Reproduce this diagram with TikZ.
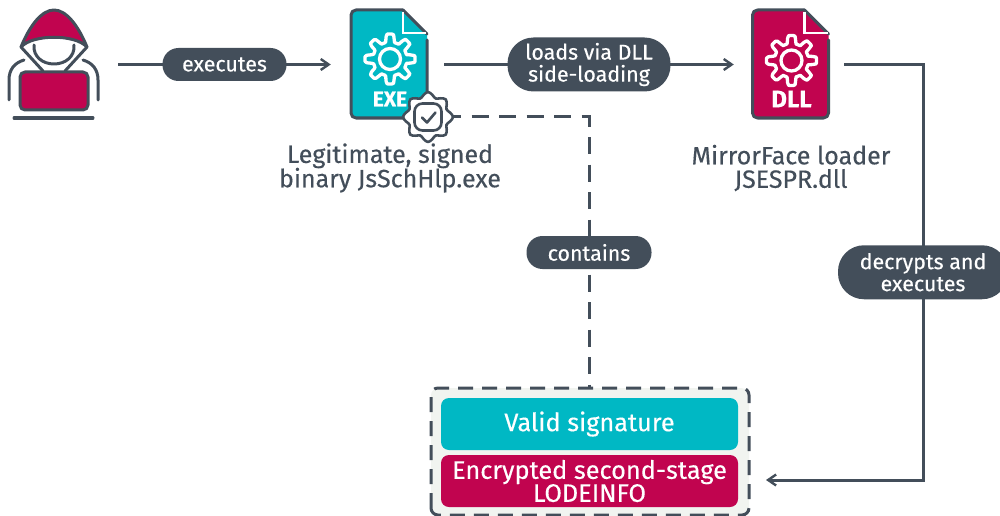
\documentclass[tikz,border=0pt]{standalone}
\usepackage{fontspec}
\setmainfont{Fira Sans}[FakeBold=0.35]
\usetikzlibrary{arrows.meta}
\definecolor{ink}{HTML}{434E5A}
\definecolor{crim}{HTML}{C1044F}
\definecolor{teal2}{HTML}{00B8C4}
\definecolor{panelbg}{HTML}{F1F4F0}
\tikzset{
  x=1pt,y=-1pt,
  conn/.style={draw=ink,line width=3pt,-{Straight Barb[length=8pt,width=11pt,line width=2.4pt]}},
  dashconn/.style={draw=ink,line width=3pt,dash pattern=on 17pt off 10.5pt},
  pilltext/.style={fill=ink,text=white,rounded corners=16pt,align=center,font=\fontsize{21.4}{22}\selectfont,inner sep=0pt},
  anchorbox/.style={minimum height=20pt,inner sep=0pt},
  caption/.style={text=ink,align=center,font=\fontsize{25}{23}\selectfont,inner sep=0pt},
  boxlabel/.style={text=white,align=center,font=\fontsize{25.3}{24}\selectfont,minimum width=297pt,rounded corners=8pt,inner sep=0pt},
  icon/.style={line width=3pt,draw=ink,line join=round,line cap=round},
}
\newcommand{\gearicon}[3]{%
  \draw[white,line width=3.3pt,line join=round] plot[smooth cycle,tension=0.35,samples=97,domain=0:356.25,variable=\t]
    ({#1+(#3-4+4*max(-1,min(1,2.2*cos(8*\t))))*cos(\t)},{#2+(#3-4+4*max(-1,min(1,2.2*cos(8*\t))))*sin(\t)});
  \draw[white,line width=3.3pt] (#1,#2) circle[radius=10.5];
}
\newcommand{\docicon}[5]{%
  \path[fill=#3,rounded corners=5pt] (#1-39,10) -- (#1+13,10) [sharp corners] -- (#1+37,34) [rounded corners=5pt] -- (#1+37,118) -- (#1-39,118) -- cycle;
  \draw[icon,rounded corners=5pt] (#1+37,40) -- (#1+37,118) -- (#1-39,118) -- (#1-39,10) -- (#1+13,10);
  \draw[icon] (#1+13,10) -- (#1+37,34);
  \draw[white,line width=2.4pt] (#1+13,12) -- (#1+13,33) -- (#1+36,33);
  \gearicon{#1}{#5}{25}
  \node[text=white,inner sep=0pt,font=\fontsize{#4}{#4}\selectfont\bfseries] at (#1,99) {#2};
}
\begin{document}
\begin{tikzpicture}
\useasboundingbox (0,0) rectangle (1000,516);
% anchors for icons
\node[anchorbox,minimum width=130pt] (actor) at (53,64.5) {};
\node[anchorbox,minimum width=113pt] (exe) at (387.5,64.5) {};
\node[anchorbox,minimum width=110pt] (dll) at (789,64.5) {};
\node[anchorbox,minimum width=30pt] (badge) at (429,117) {};
\coordinate (bendA) at (589,117);
\coordinate (bendB) at (923,64.5);
\coordinate (bendC) at (923,480);
% panel
\node[draw=none,fill=panelbg,minimum width=318pt,minimum height=128pt,anchor=north,inner sep=0pt,rounded corners=7pt] (panelfill) at (590,388) {};
\draw[draw=ink,line width=3pt,dash pattern=on 15pt off 9pt,rounded corners=7pt] (431,515) -- (431,388) -- (749,388) -- (749,515) -- cycle;
\coordinate (panel) at (589,388);
\coordinate (panelE) at (766,480);
\node[boxlabel,fill=teal2,minimum height=52pt] (sig) at (589.5,424) {\raisebox{-1.5pt}{Valid signature}};
\node[boxlabel,fill=crim,minimum height=52pt] (enc) at (589.5,481) {Encrypted second-stage\\[-1pt]LODEINFO};
% connectors
\draw[conn] (actor.east) -- node[pilltext,minimum width=124pt,minimum height=33pt,pos=0.5] (p1) {executes} (exe.west);
\draw[conn] (exe.east) -- node[pilltext,minimum width=163pt,minimum height=54pt,rounded corners=26pt,pos=0.5] (p2) {loads via DLL\\side-loading} (dll.west);
\draw[conn] (dll.east) -- (bendB) -- node[pilltext,minimum width=170pt,minimum height=54pt,rounded corners=26pt,pos=0.5] (p3) {decrypts and\\executes} (bendC) -- (panelE);
\draw[dashconn] (badge.east) -- (bendA) -- node[pilltext,minimum width=125pt,minimum height=33pt,pos=0.5] (p4) {contains} (panel);
% actor icon
\path[fill=crim] (21,47) .. controls (30,25) and (42,10) .. (54,10) .. controls (66,10) and (78,25) .. (87,47) .. controls (75,34) and (33,34) .. (21,47) -- cycle;
\draw[icon] (21,47) .. controls (30,25) and (42,10) .. (54,10) .. controls (66,10) and (78,25) .. (87,47) .. controls (75,34) and (33,34) .. (21,47) -- cycle;
\draw[icon] (34,45) .. controls (33,57) and (43,64) .. (54,64) .. controls (65,64) and (75,57) .. (74,45);
\draw[icon] (21,47) -- (43,71);
\draw[icon] (87,47) -- (65,71);
\draw[icon] (24,60) .. controls (14,63) and (9,70) .. (9,80) -- (9,100);
\draw[icon] (83,60) .. controls (93,63) and (98,70) .. (98,80) -- (98,100);
\draw[icon,fill=crim,rounded corners=5pt] (20,72) rectangle (88,110);
\draw[icon] (14,118) -- (93,118);
% file icons
\docicon{390}{EXE}{teal2}{21}{59}
\docicon{791.5}{DLL}{crim}{24}{60.5}
% badge
\draw[draw=ink,fill=white,line width=2.6pt,line join=round] plot[smooth cycle,tension=0.7,samples=32,domain=0:348.75,variable=\t]
    ({428+(22.5+2.5*cos(8*\t))*cos(\t)},{117+(22.5+2.5*cos(8*\t))*sin(\t)});
\draw[draw=ink,line width=2.6pt,rounded corners=8pt] (414.5,103.5) rectangle (441.5,130.5);
\draw[icon,line width=2.6pt] (422,117.5) -- (427,122.5) -- (435.5,112.5);
% captions
\node[caption] (exeCap) at (390,168) {Legitimate, signed\\[-1.5pt]binary JsSchHlp.exe};
\node[caption] (dllCap) at (791,168) {MirrorFace loader\\[0.5pt]JSESPR.dll};
\end{tikzpicture}
\end{document}
